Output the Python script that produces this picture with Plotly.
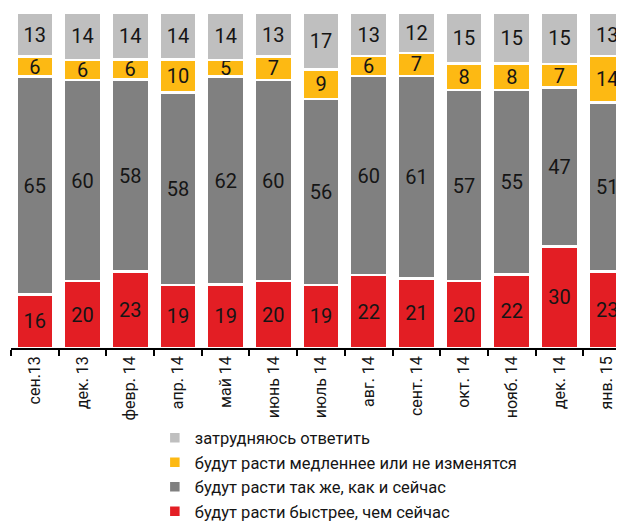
import plotly.graph_objects as go

categories = ["сен.13", "дек. 13", "февр. 14", "апр. 14", "май 14", "июнь 14", "июль 14",
              "авг. 14", "сент. 14", "окт. 14", "нояб. 14", "дек. 14", "янв. 15"]
faster = [16, 20, 23, 19, 19, 20, 19, 22, 21, 20, 22, 30, 23]
same = [65, 60, 58, 58, 62, 60, 56, 60, 61, 57, 55, 47, 51]
slower = [6, 6, 6, 10, 5, 7, 9, 6, 7, 8, 8, 7, 14]
unsure = [13, 14, 14, 14, 14, 13, 17, 13, 12, 15, 15, 15, 13]

series = [
    ("будут расти быстрее, чем сейчас", faster, "#e31e24"),
    ("будут расти так же, как и сейчас", same, "#808080"),
    ("будут расти медленнее или не изменятся", slower, "#fdb913"),
    ("затрудняюсь ответить", unsure, "#bfbfbf"),
]

FONT = "Roboto, Open Sans, sans-serif"

fig = go.Figure()
for name, vals, color in series:
    fig.add_trace(go.Bar(
        x=categories, y=vals, name=name,
        marker=dict(color=color, line=dict(color="white", width=2.5)),
        text=vals, texttemplate="%{text}", textposition="inside",
        insidetextanchor="middle", textangle=0, constraintext="none",
        textfont=dict(color="#151515", size=20, family=FONT),
        hoverinfo="skip",
    ))

fig.update_layout(
    barmode="stack",
    barnorm="percent",
    bargap=0.22,
    width=624, height=521,
    margin=dict(l=3, r=1, t=5, b=181),
    paper_bgcolor="white", plot_bgcolor="white",
    uniformtext=dict(mode="show", minsize=20),
    font=dict(family=FONT, color="#151515"),
    xaxis=dict(
        type="category",
        range=[-0.5, 12.5],
        showline=True, linecolor="black", linewidth=1.5,
        ticks="outside", tickson="boundaries", ticklen=6, tickwidth=1.5, tickcolor="black",
        tickangle=-90, tickfont=dict(size=16, family=FONT, color="#151515"),
        showgrid=False, zeroline=False,
    ),
    yaxis=dict(visible=False, range=[0, 100], showgrid=False),
    legend=dict(
        traceorder="reversed",
        orientation="v",
        x=0.232, xanchor="left",
        yref="container", y=0.208, yanchor="top",
        font=dict(size=16.5, family=FONT, color="#151515"),
        bgcolor="rgba(0,0,0,0)",
        tracegroupgap=0,
    ),
    showlegend=True,
)

fig.write_html("out.html")
